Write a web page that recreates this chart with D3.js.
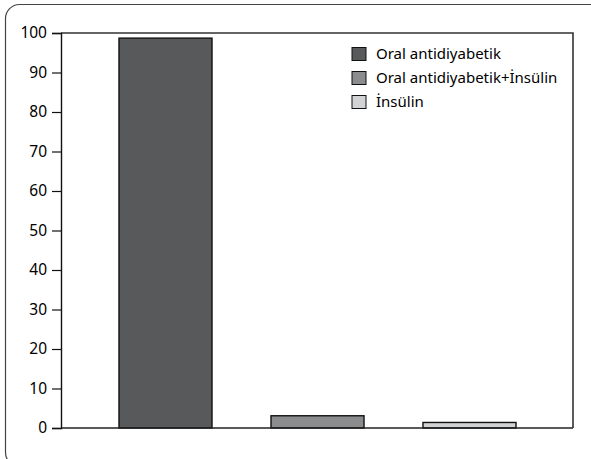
<!DOCTYPE html>
<html>
<head>
<meta charset="utf-8">
<script src="https://cdn.jsdelivr.net/npm/d3@7"></script>
<style>
html,body{margin:0;padding:0;background:#fff;}
svg{display:block;}
text{font-family:"Noto Sans",sans-serif;fill:#000;}
</style>
</head>
<body>
<svg id="chart" width="591" height="459"></svg>
<script>
const categories = ["Oral antidiyabetik", "Oral antidiyabetik+İnsülin", "İnsülin"];
const values = [98.7, 3.1, 1.4];
const colors = ["#58595b", "#8b8c8e", "#d1d3d4"];
const yTicks = [0, 10, 20, 30, 40, 50, 60, 70, 80, 90, 100];

const svg = d3.select("#chart");
const plot = {left: 61, top: 33, right: 573, bottom: 428};

// outer rounded frame (partially cropped)
svg.append("rect")
  .attr("x", 5.5).attr("y", 4.5)
  .attr("width", 620).attr("height", 462)
  .attr("rx", 14).attr("ry", 14)
  .attr("fill", "none").attr("stroke", "#444").attr("stroke-width", 1.2);

const y = d3.scaleLinear().domain([0, 100]).range([plot.bottom, plot.top]);
const x = d3.scaleBand().domain(categories).range([89.5, 545.5])
  .paddingInner(0.388).paddingOuter(0.194);

// plot frame top & right
svg.append("path")
  .attr("d", `M${plot.left},${plot.top}H${plot.right}V${plot.bottom}`)
  .attr("fill", "none").attr("stroke", "#333").attr("stroke-width", 1.6);

// bars
svg.selectAll("rect.bar").data(values).enter().append("rect")
  .attr("class", "bar")
  .attr("x", (d, i) => x(categories[i]))
  .attr("y", d => y(d))
  .attr("width", x.bandwidth())
  .attr("height", d => y(0) - y(d))
  .attr("fill", (d, i) => colors[i])
  .attr("stroke", "#111").attr("stroke-width", 1.4);

// bottom line
svg.append("line")
  .attr("x1", plot.left).attr("x2", plot.right)
  .attr("y1", plot.bottom).attr("y2", plot.bottom)
  .attr("stroke", "#222").attr("stroke-width", 1.4);

// y axis
const yAxis = d3.axisLeft(y).tickValues(yTicks).tickSize(9).tickPadding(5);
const g = svg.append("g").attr("transform", `translate(${plot.left},0)`).call(yAxis);
g.select(".domain").attr("stroke", "#111").attr("stroke-width", 1.4);
g.selectAll(".tick line").attr("stroke", "#111").attr("stroke-width", 1.2);
g.selectAll(".tick text").style("font-family", '"Noto Sans",sans-serif')
  .style("font-size", "15.5px").attr("fill", "#000");

// legend
const legend = svg.append("g");
categories.forEach((c, i) => {
  const ly = 47.5 + i * 24;
  legend.append("rect")
    .attr("x", 352).attr("y", ly).attr("width", 14).attr("height", 13)
    .attr("fill", colors[i]).attr("stroke", "#111").attr("stroke-width", 1);
  legend.append("text")
    .attr("x", 376).attr("y", ly + 6.5).attr("dy", "0.35em")
    .style("font-size", "15px").text(c);
});
</script>
</body>
</html>
